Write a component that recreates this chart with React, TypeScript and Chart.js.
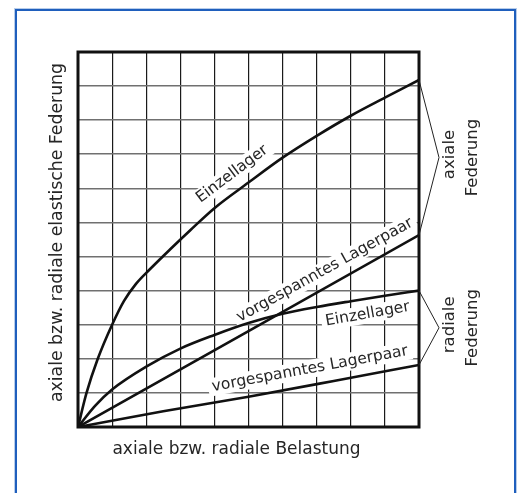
import React, { useEffect, useRef } from "react";
import { Chart, registerables } from "chart.js";

Chart.register(...registerables);

// Load (x) and deflection (y) values, in grid units
const axialSingleLoad = [0, 0.25, 0.58, 1.0, 1.35, 1.7, 2.1, 2.69, 3.3, 4, 5, 6, 7, 8, 9, 10];
const axialSingleDefl = [0, 1, 2, 3, 3.7, 4.2, 4.62, 5.2, 5.78, 6.42, 7.17, 7.9, 8.54, 9.13, 9.66, 10.18];

const axialPairLoad = [0, 10];
const axialPairDefl = [0, 5.63];

const radialSingleLoad = [0, 0.5, 1, 2, 3, 4, 5, 6, 7, 8, 9, 10];
const radialSingleDefl = [0, 0.62, 1.1, 1.77, 2.3, 2.7, 3.05, 3.32, 3.52, 3.69, 3.85, 4.0];

const radialPairLoad = [0, 2.5, 5, 7.5, 10];
const radialPairDefl = [0, 0.46, 0.89, 1.35, 1.82];

const xMax = 10;
const yMax = 11;

const xTitle = "axiale bzw. radiale Belastung";
const yTitle = "axiale bzw. radiale elastische Federung";

const curveLabels = [
  { text: "Einzellager", x: 4.52, y: 7.42, angle: -37 },
  { text: "vorgespanntes Lagerpaar", x: 7.24, y: 4.6, angle: -29 },
  { text: "Einzellager", x: 8.49, y: 3.31, angle: -10 },
  { text: "vorgespanntes Lagerpaar", x: 6.8, y: 1.7, angle: -10.5 },
];

const groupLabels = [
  { lines: ["axiale", "Federung"], from: 0, to: 1 },
  { lines: ["radiale", "Federung"], from: 2, to: 3 },
];

const FONT = '"DejaVu Sans", sans-serif';
const TEXT_COLOR = "#262626";

const toPoints = (xs: number[], ys: number[]) => xs.map((x, i) => ({ x, y: ys[i] }));

const annotPlugin = {
  id: "annot",
  beforeDatasetsDraw(chart: any) {
    const { ctx, scales } = chart;
    const xs = scales.x;
    const ys = scales.y;
    ctx.save();
    ctx.font = `15.5px ${FONT}`;
    ctx.textAlign = "center";
    ctx.textBaseline = "middle";
    for (const l of curveLabels) {
      const px = xs.getPixelForValue(l.x);
      const py = ys.getPixelForValue(l.y);
      ctx.save();
      ctx.translate(px, py);
      ctx.rotate((l.angle * Math.PI) / 180);
      const w = ctx.measureText(l.text).width;
      ctx.fillStyle = "#ffffff";
      ctx.fillRect(-w / 2 - 4, -9, w + 8, 18);
      ctx.fillStyle = TEXT_COLOR;
      ctx.fillText(l.text, 0, 0);
      ctx.restore();
    }
    ctx.restore();
  },
  afterDatasetsDraw(chart: any) {
    const { ctx, chartArea: a, scales, data } = chart;
    const xs = scales.x;
    const ys = scales.y;
    ctx.save();
    // plot frame
    ctx.strokeStyle = "#111";
    ctx.lineWidth = 3;
    ctx.strokeRect(a.left, a.top, a.right - a.left, a.bottom - a.top);

    // brackets and group labels
    ctx.lineWidth = 1;
    ctx.font = `16.5px ${FONT}`;
    ctx.textAlign = "center";
    ctx.textBaseline = "middle";
    for (const g of groupLabels) {
      const d1 = data.datasets[g.from].data;
      const d2 = data.datasets[g.to].data;
      const p1 = d1[d1.length - 1];
      const p2 = d2[d2.length - 1];
      const x1 = xs.getPixelForValue(p1.x);
      const y1 = ys.getPixelForValue(p1.y);
      const x2 = xs.getPixelForValue(p2.x);
      const y2 = ys.getPixelForValue(p2.y);
      const ax = a.right + 20;
      const ay = (y1 + y2) / 2;
      ctx.strokeStyle = "#222";
      ctx.beginPath();
      ctx.moveTo(x1, y1);
      ctx.lineTo(ax, ay);
      ctx.lineTo(x2, y2);
      ctx.stroke();
      ctx.fillStyle = TEXT_COLOR;
      g.lines.forEach((t, i) => {
        ctx.save();
        ctx.translate(ax + 11 + i * 23, ay - 3 + i * 3);
        ctx.rotate(-Math.PI / 2);
        ctx.fillText(t, 0, 0);
        ctx.restore();
      });
    }

    // axis titles
    ctx.font = `17px ${FONT}`;
    ctx.fillStyle = TEXT_COLOR;
    ctx.fillText(xTitle, (a.left + a.right) / 2 - 12, a.bottom + 23);
    ctx.save();
    ctx.translate(a.left - 20, (a.top + a.bottom) / 2 - 7);
    ctx.rotate(-Math.PI / 2);
    ctx.font = `17.3px ${FONT}`;
    ctx.fillText(yTitle, 0, 0);
    ctx.restore();
    ctx.restore();
  },
};

export default function App() {
  const ref = useRef<HTMLCanvasElement | null>(null);
  useEffect(() => {
    if (!ref.current) return;
    const lineStyle = {
      borderColor: "#111",
      borderWidth: 2.6,
      pointRadius: 0,
      fill: false,
      cubicInterpolationMode: "monotone" as const,
    };
    const chart = new Chart(ref.current, {
      type: "line",
      data: {
        datasets: [
          { label: "axial Einzellager", data: toPoints(axialSingleLoad, axialSingleDefl), ...lineStyle },
          { label: "axial vorgespanntes Lagerpaar", data: toPoints(axialPairLoad, axialPairDefl), ...lineStyle },
          { label: "radial Einzellager", data: toPoints(radialSingleLoad, radialSingleDefl), ...lineStyle },
          { label: "radial vorgespanntes Lagerpaar", data: toPoints(radialPairLoad, radialPairDefl), ...lineStyle },
        ],
      },
      options: {
        animation: false,
        responsive: false,
        layout: { padding: { left: 78, top: 52, right: 101, bottom: 66 } },
        plugins: { legend: { display: false }, tooltip: { enabled: false } },
        scales: {
          x: {
            type: "linear",
            min: 0,
            max: xMax,
            ticks: { display: false, stepSize: 1 },
            grid: { color: "#1a1a1a", lineWidth: 1.2, drawTicks: false },
            border: { display: false },
            afterFit: (s: any) => {
              s.height = 0;
            },
          },
          y: {
            type: "linear",
            min: 0,
            max: yMax,
            ticks: { display: false, stepSize: 1 },
            grid: { color: "#707070", lineWidth: 1.6, drawTicks: false },
            border: { display: false },
            afterFit: (s: any) => {
              s.width = 0;
            },
          },
        },
      },
      plugins: [annotPlugin],
    });
    return () => chart.destroy();
  }, []);

  return (
    <div style={{ position: "absolute", left: 0, top: 0, width: 520, height: 493, overflow: "hidden", background: "#fff" }}>
      <div
        style={{
          position: "absolute",
          left: 15,
          top: 9,
          width: 497,
          height: 520,
          border: "2px solid #1f5fbd",
          boxShadow: "0 0 0 1px #b8cdea",
        }}
      />
      <canvas ref={ref} width={520} height={493} style={{ position: "absolute", left: 0, top: 0, display: "block" }} />
    </div>
  );
}
